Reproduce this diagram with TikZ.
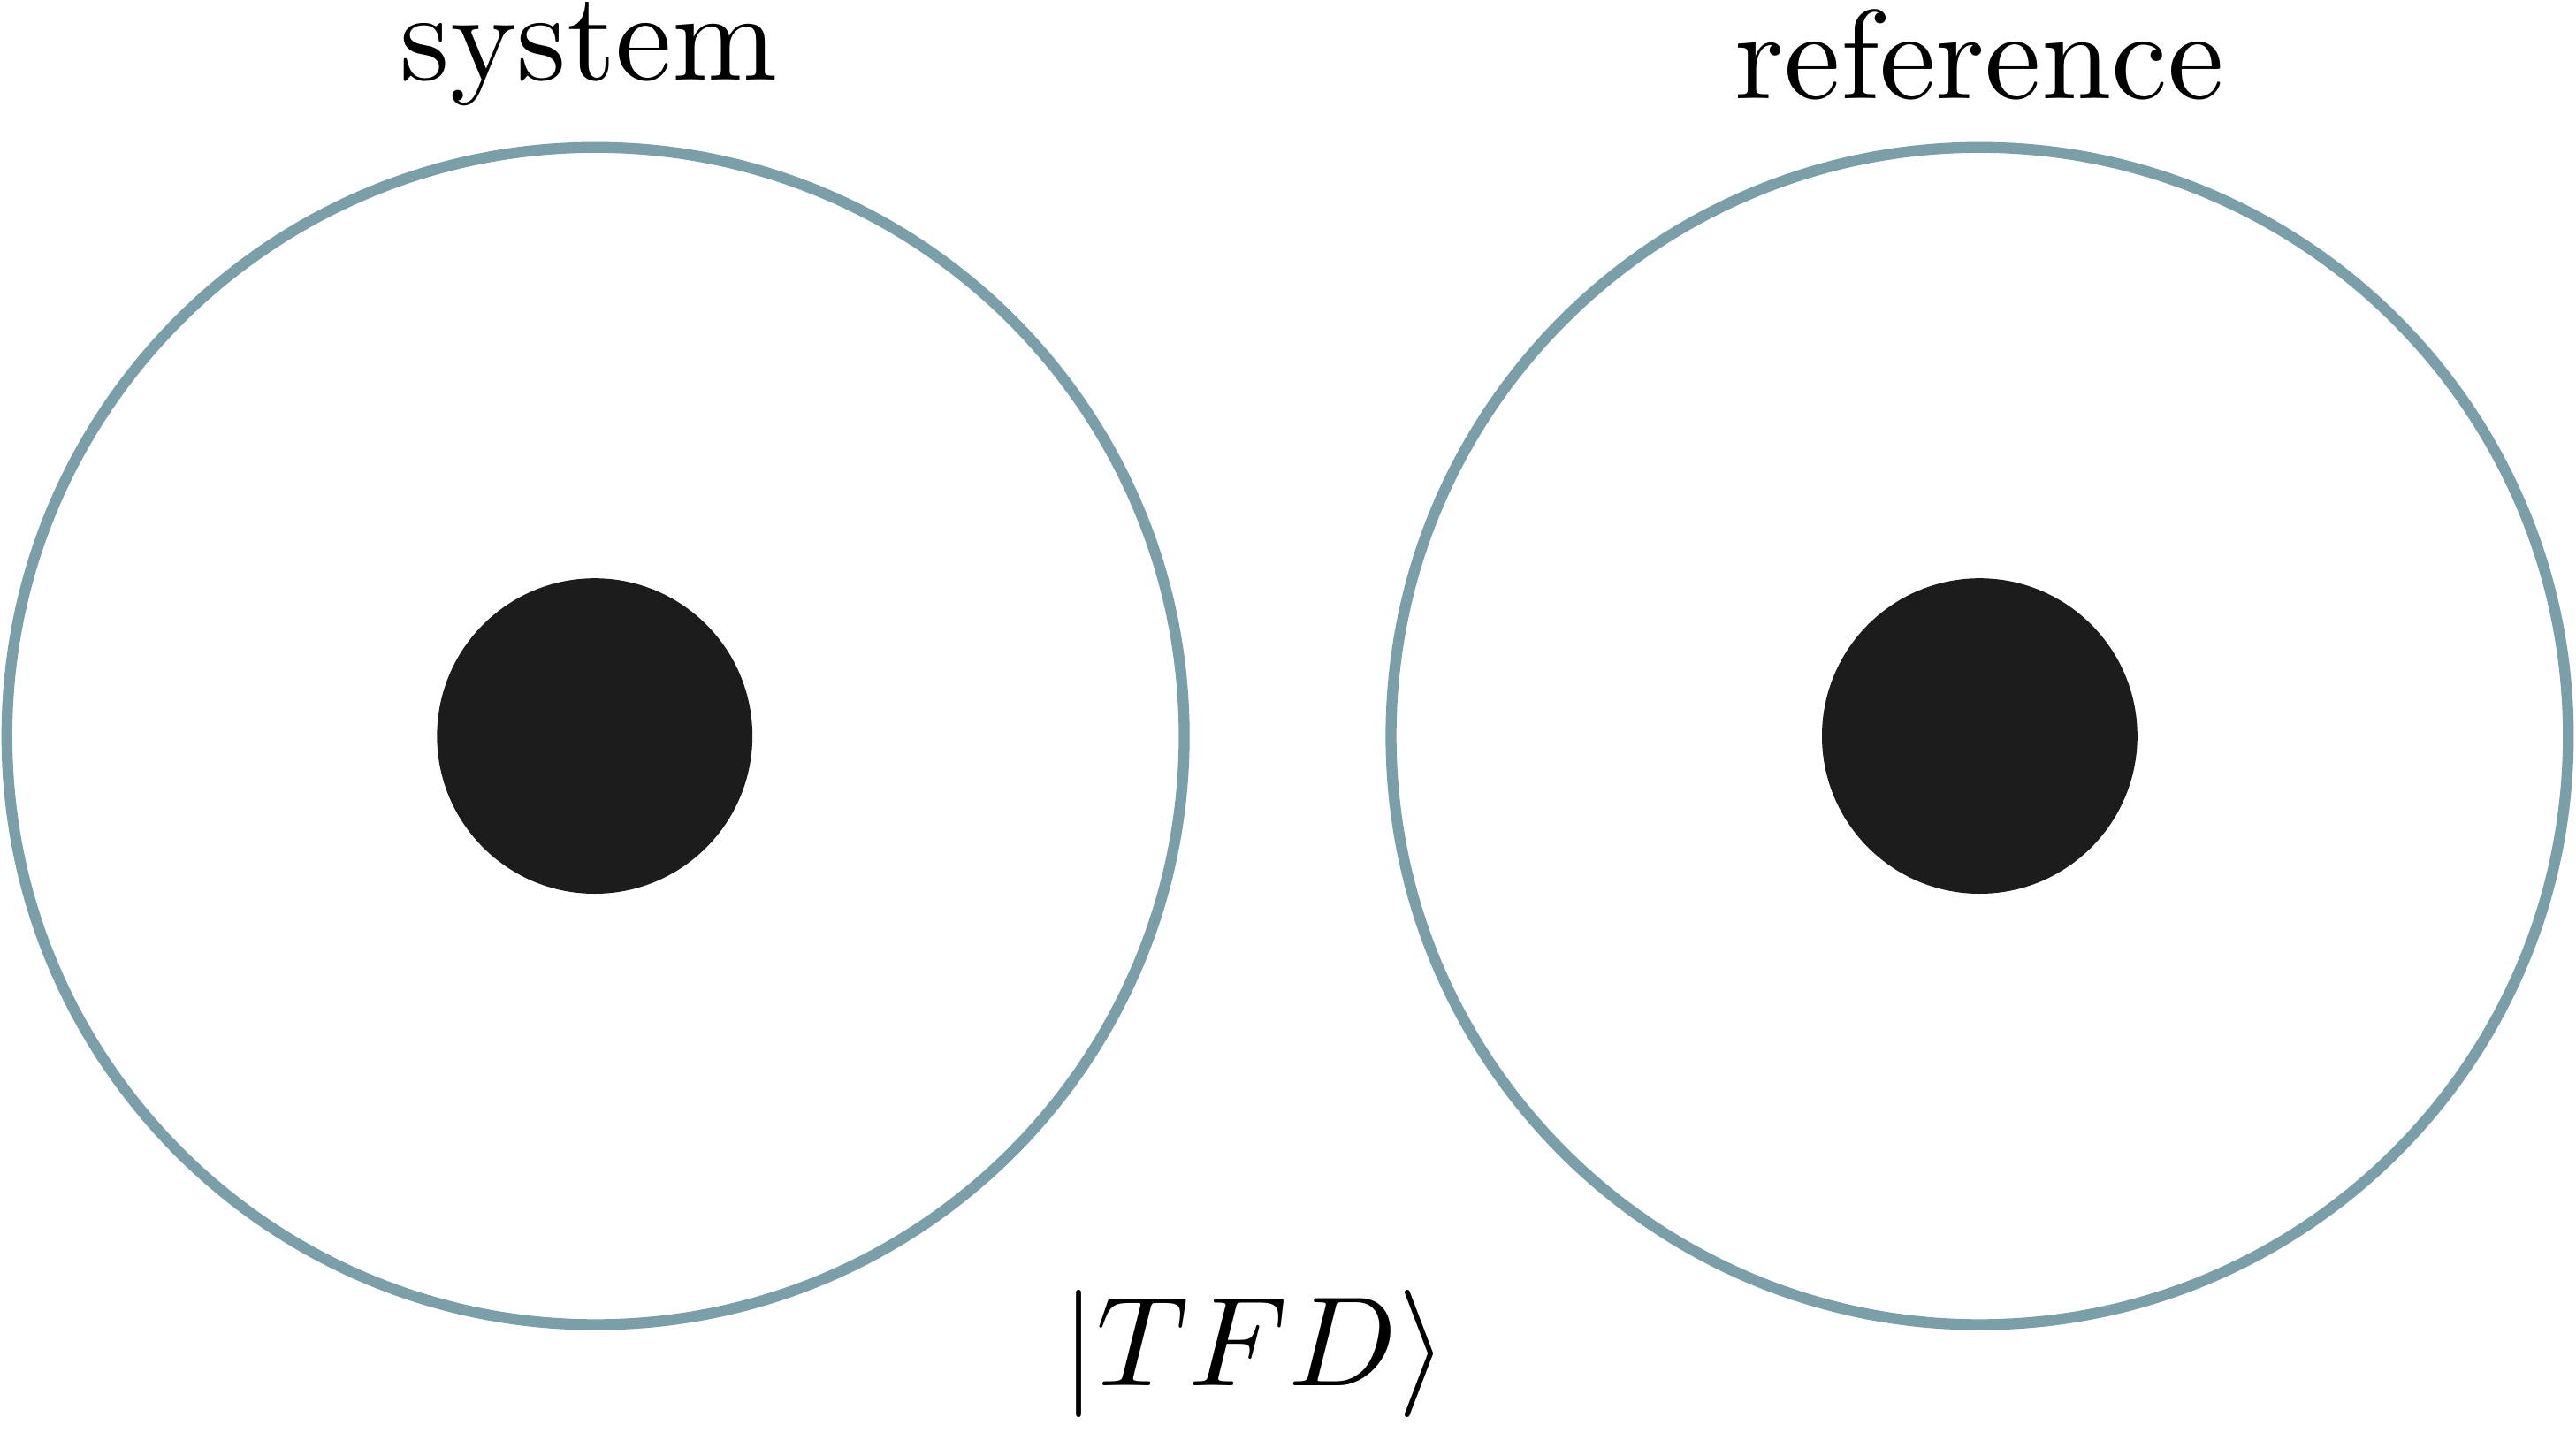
\documentclass[tikz,border=0pt]{standalone}
\definecolor{ringc}{RGB}{122,159,168}
\definecolor{dotc}{RGB}{28,28,28}
\begin{document}
\begin{tikzpicture}[x=0.018584cm,y=-0.018584cm,
  ringstyle/.style={draw=ringc,line width=3.5pt},
  hole/.style={circle,fill=dotc,inner sep=0pt,minimum size=192*0.018584cm},
  lbl/.style={anchor=base,inner sep=0pt}]
\useasboundingbox (0,0) rectangle (1568,881);
\draw[ringstyle] (362.5,448) circle[radius=358.3];
\draw[ringstyle] (1205,448) circle[radius=358.3];
\node[hole] (bhL) at (362,448) {};
\node[hole] (bhR) at (1205,448) {};
\node[lbl] (sys) at (358.5,48.6) {\scalebox{4.07}{system}};
\node[lbl] (ref) at (1205,60) {\scalebox{4.07}{reference}};
\node[lbl] (tfd) at (763.5,843.7) {\scalebox{4.1}{$|TFD\rangle$}};
\end{tikzpicture}
\end{document}
